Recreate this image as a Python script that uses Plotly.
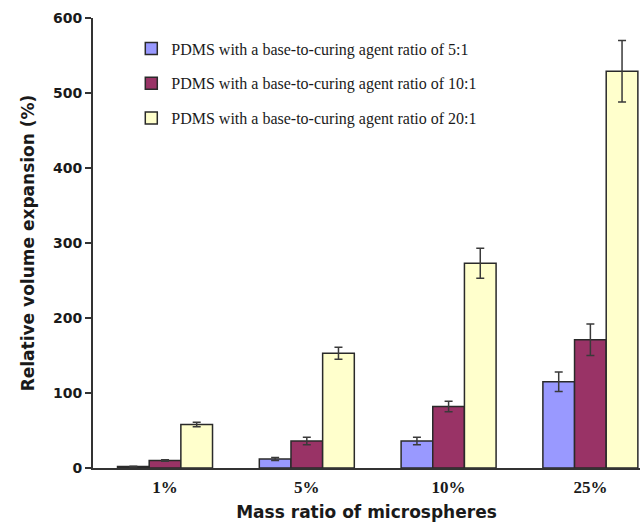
import plotly.graph_objects as go

# Mass ratio of microspheres in the PDMS films
categories = ["1%", "5%", "10%", "25%"]

# Relative volume expansion (%) and standard deviations per base-to-curing agent ratio
ratio_5_1 = [2, 12, 36, 115]
ratio_5_1_err = [0.5, 2, 5, 13]
ratio_10_1 = [10, 36, 82, 171]
ratio_10_1_err = [1, 5, 7, 21]
ratio_20_1 = [58, 153, 273, 529]
ratio_20_1_err = [3, 8, 20, 41]

series_names = [
    "PDMS with a base-to-curing agent ratio of 5:1",
    "PDMS with a base-to-curing agent ratio of 10:1",
    "PDMS with a base-to-curing agent ratio of 20:1",
]
series_values = [ratio_5_1, ratio_10_1, ratio_20_1]
series_errors = [ratio_5_1_err, ratio_10_1_err, ratio_20_1_err]
series_colors = ["#9999ff", "#993366", "#ffffcc"]

y_ticks = [0, 100, 200, 300, 400, 500, 600]

fig = go.Figure()
for i, (name, vals, errs, color) in enumerate(
    zip(series_names, series_values, series_errors, series_colors)
):
    fig.add_trace(
        go.Bar(
            x=categories,
            y=vals,
            name=name,
            legendgroup=f"g{i}",
            marker=dict(color=color, line=dict(color="#2a2a2a", width=1.5)),
            error_y=dict(
                type="data",
                array=errs,
                visible=True,
                color="#3a3a3a",
                thickness=1.5,
                width=4,
            ),
        )
    )

fig.update_layout(
    width=640,
    height=523,
    margin=dict(l=93, r=0, t=18, b=55),
    plot_bgcolor="white",
    paper_bgcolor="white",
    barmode="group",
    bargap=0.33,
    bargroupgap=0,
    showlegend=True,
    legend=dict(
        x=0.07,
        y=0.97,
        xanchor="left",
        yanchor="top",
        bgcolor="rgba(0,0,0,0)",
        font=dict(family="Liberation Serif", size=16, color="#1a1a1a"),
        traceorder="grouped",
        tracegroupgap=11,
        itemwidth=30,
    ),
    xaxis=dict(
        type="category",
        range=[-0.508, 3.35],
        showline=True,
        linecolor="#333333",
        linewidth=2,
        ticks="",
        ticklabelstandoff=3,
        tickfont=dict(family="Liberation Serif", size=17, color="#1a1a1a", weight="bold"),
        title=dict(
            text="Mass ratio of microspheres",
            font=dict(family="DejaVu Sans", size=17, color="#1a1a1a", weight="bold"),
            standoff=10,
        ),
        showgrid=False,
        zeroline=False,
    ),
    yaxis=dict(
        range=[0, 600],
        tickvals=y_ticks,
        showline=True,
        linecolor="#333333",
        linewidth=2,
        ticks="outside",
        ticklen=6,
        tickwidth=1.5,
        tickcolor="#333333",
        tickfont=dict(family="DejaVu Sans", size=14, color="#1a1a1a", weight="bold"),
        title=dict(
            text="Relative volume expansion (%)",
            font=dict(family="DejaVu Sans", size=17, color="#1a1a1a", weight="bold"),
            standoff=14,
        ),
        showgrid=False,
        zeroline=False,
    ),
)

fig.write_html("out.html")
